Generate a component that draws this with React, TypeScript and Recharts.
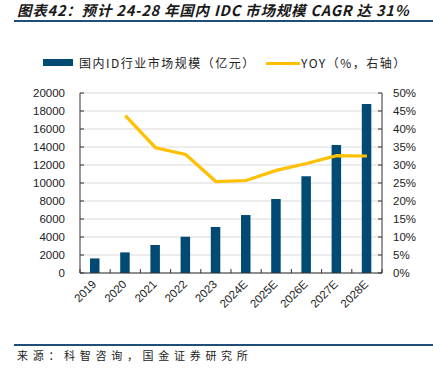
import React from "react";
import { ComposedChart, Bar, Line, XAxis, YAxis, CartesianGrid } from "recharts";

const categories = ["2019", "2020", "2021", "2022", "2023", "2024E", "2025E", "2026E", "2027E", "2028E"];
const marketSize = [1620, 2290, 3110, 4030, 5110, 6440, 8220, 10740, 14220, 18780];
const yoy: (number | null)[] = [null, 43.7, 34.8, 32.9, 25.4, 25.7, 28.5, 30.4, 32.6, 32.5];
const leftTicks = [0, 2000, 4000, 6000, 8000, 10000, 12000, 14000, 16000, 18000, 20000];
const rightTicks = [0, 5, 10, 15, 20, 25, 30, 35, 40, 45, 50];

const data = categories.map((c, i) => ({ year: c, size: marketSize[i], yoy: yoy[i] }));

const W = 433;
const H = 375;
const LEFT_W = 80;
const RIGHT_W = 51;
const PLOT_W = W - LEFT_W - RIGHT_W;
const BAND = PLOT_W / categories.length;
const BAR_COLOR = "#004A73";
const LINE_COLOR = "#FFC000";
const TXT = "#222";
const NUM_FONT = "'Liberation Sans', Arial, sans-serif";
const CJK_FONT = "'Noto Sans CJK SC', sans-serif";

const LeftTick = (props: any) => {
  const { x, y, payload } = props;
  return (
    <g>
      <line x1={x + 15} y1={y} x2={x + 19} y2={y} stroke="#333" strokeWidth={1} />
      <text x={x} y={y} dy="0.355em" textAnchor="end" fontSize={11.5} fill={TXT} fontFamily={NUM_FONT}>
        {payload.value}
      </text>
    </g>
  );
};

const RightTick = (props: any) => {
  const { x, y, payload } = props;
  return (
    <g>
      <line x1={x - 11} y1={y} x2={x - 15} y2={y} stroke="#333" strokeWidth={1} />
      <text x={x} y={y} dy="0.355em" textAnchor="start" fontSize={11.5} fill={TXT} fontFamily={NUM_FONT}>
        {payload.value}%
      </text>
    </g>
  );
};

const BottomTick = (props: any) => {
  const { x, y, payload, index } = props;
  const tx = x + 2;
  const ty = y + 12;
  const last = index === categories.length - 1;
  return (
    <g>
      <line x1={x - BAND / 2} y1={y} x2={x - BAND / 2} y2={y - 4} stroke="#333" strokeWidth={1} />
      {last ? <line x1={x + BAND / 2} y1={y} x2={x + BAND / 2} y2={y - 4} stroke="#333" strokeWidth={1} /> : null}
      <text x={tx} y={ty} textAnchor="end" fontSize={11.5} fill={TXT} fontFamily={NUM_FONT} transform={`rotate(-45, ${tx}, ${ty})`}>
        {payload.value}
      </text>
    </g>
  );
};

export default function App() {
  return (
    <div style={{ position: "absolute", left: 0, top: 0, width: W, height: H, background: "#fff", overflow: "hidden" }}>
      <div
        style={{
          position: "absolute",
          left: 17,
          top: 1,
          fontFamily: CJK_FONT,
          fontSize: 14.5,
          letterSpacing: 0.8,
          fontWeight: "bold",
          fontStyle: "italic",
          color: "#1a1a1a",
          lineHeight: "17px",
          whiteSpace: "nowrap",
        }}
      >
        图表42：预计 24-28 年国内 IDC 市场规模 CAGR 达 31%
      </div>
      <div style={{ position: "absolute", left: 14, top: 20, width: W - 14, height: 1.5, background: "#1F4E79" }} />

      <div style={{ position: "absolute", left: 43, top: 59, width: 30, height: 7, background: BAR_COLOR }} />
      <div
        style={{
          position: "absolute",
          left: 79,
          top: 54,
          fontFamily: CJK_FONT,
          fontSize: 12,
          letterSpacing: 1.5,
          color: TXT,
          lineHeight: "18px",
          whiteSpace: "nowrap",
        }}
      >
        国内ID行业市场规模（亿元）
      </div>
      <div style={{ position: "absolute", left: 266, top: 61.5, width: 34, height: 3, background: LINE_COLOR }} />
      <div
        style={{
          position: "absolute",
          left: 301,
          top: 54,
          fontFamily: CJK_FONT,
          fontSize: 12,
          letterSpacing: 1.5,
          color: TXT,
          lineHeight: "18px",
          whiteSpace: "nowrap",
        }}
      >
        YOY（%，右轴）
      </div>

      <div style={{ position: "absolute", left: 0, top: 0 }}>
        <ComposedChart width={W} height={H} data={data} margin={{ top: 93, right: 0, bottom: 62, left: 0 }}>
          <CartesianGrid yAxisId="left" vertical={false} stroke="#D9D9D9" strokeWidth={1.2} />
          <XAxis
            dataKey="year"
            height={40}
            tickSize={0}
            tickMargin={0}
            interval={0}
            axisLine={{ stroke: "#333", strokeWidth: 1 }}
            tickLine={false}
            tick={<BottomTick />}
          />
          <YAxis
            yAxisId="left"
            orientation="left"
            width={LEFT_W}
            domain={[0, 20000]}
            ticks={leftTicks}
            interval={0}
            tickSize={0}
            tickMargin={15}
            axisLine={{ stroke: "#333", strokeWidth: 1 }}
            tickLine={false}
            tick={<LeftTick />}
          />
          <YAxis
            yAxisId="right"
            orientation="right"
            width={RIGHT_W}
            domain={[0, 50]}
            ticks={rightTicks}
            interval={0}
            tickSize={0}
            tickMargin={11}
            axisLine={{ stroke: "#333", strokeWidth: 1 }}
            tickLine={false}
            tick={<RightTick />}
          />
          <Bar yAxisId="left" dataKey="size" fill={BAR_COLOR} barSize={9.5} isAnimationActive={false} />
          <Line
            yAxisId="right"
            dataKey="yoy"
            stroke={LINE_COLOR}
            strokeWidth={3.2}
            dot={false}
            activeDot={false}
            connectNulls={false}
            isAnimationActive={false}
          />
        </ComposedChart>
      </div>

      <div style={{ position: "absolute", left: 14, top: 344, width: W - 14, height: 1.5, background: "#1F4E79" }} />
      <div
        style={{
          position: "absolute",
          left: 17,
          top: 347,
          fontFamily: CJK_FONT,
          fontSize: 11,
          letterSpacing: 4.7,
          color: TXT,
          lineHeight: "16px",
          whiteSpace: "nowrap",
        }}
      >
        来源：科智咨询，国金证券研究所
      </div>
    </div>
  );
}
